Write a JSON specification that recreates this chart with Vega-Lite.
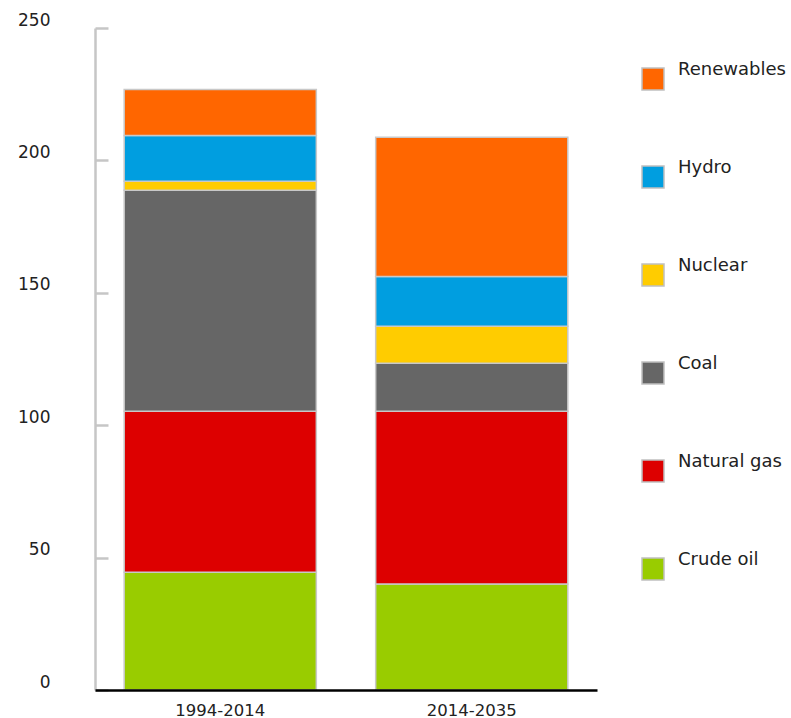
{
  "$schema": "https://vega.github.io/schema/vega-lite/v6.json",
  "width": 502,
  "height": 662,
  "autosize": {"type": "none"},
  "padding": {"left": 95, "top": 28, "right": 194, "bottom": 28},
  "background": "white",
  "config": {
    "view": {"stroke": null},
    "font": "DejaVu Sans"
  },
  "data": {
    "values": [
      {"period": "1994-2014", "source": "Crude oil", "rank": 1, "value": 44.5},
      {"period": "1994-2014", "source": "Natural gas", "rank": 2, "value": 60.8},
      {"period": "1994-2014", "source": "Coal", "rank": 3, "value": 83.4},
      {"period": "1994-2014", "source": "Nuclear", "rank": 4, "value": 3.4},
      {"period": "1994-2014", "source": "Hydro", "rank": 5, "value": 17.3},
      {"period": "1994-2014", "source": "Renewables", "rank": 6, "value": 17.4},
      {"period": "2014-2035", "source": "Crude oil", "rank": 1, "value": 40.0},
      {"period": "2014-2035", "source": "Natural gas", "rank": 2, "value": 65.3},
      {"period": "2014-2035", "source": "Coal", "rank": 3, "value": 18.1},
      {"period": "2014-2035", "source": "Nuclear", "rank": 4, "value": 14.0},
      {"period": "2014-2035", "source": "Hydro", "rank": 5, "value": 18.8},
      {"period": "2014-2035", "source": "Renewables", "rank": 6, "value": 52.5}
    ]
  },
  "mark": {"type": "bar", "stroke": "#c8c8c8", "strokeWidth": 1.5},
  "encoding": {
    "x": {
      "field": "period",
      "type": "nominal",
      "scale": {"paddingInner": 0.236, "paddingOuter": 0.116},
      "axis": {
        "title": null,
        "labelAngle": 0,
        "ticks": false,
        "domainColor": "#000000",
        "domainWidth": 2.5,
        "labelPadding": 12,
        "labelFontSize": 16.5,
        "labelColor": "#222222",
        "zindex": 2
      }
    },
    "y": {
      "field": "value",
      "type": "quantitative",
      "stack": "zero",
      "scale": {"domain": [0, 250], "nice": false},
      "axis": {
        "title": null,
        "values": [0, 50, 100, 150, 200, 250],
        "grid": false,
        "domainColor": "#c6c6c6",
        "domainWidth": 2.5,
        "tickColor": "#c6c6c6",
        "tickWidth": 2.5,
        "tickSize": -13,
        "labelPadding": 58,
        "labelOffset": -8,
        "labelFontSize": 17,
        "labelColor": "#222222",
        "zindex": 1
      }
    },
    "color": {
      "field": "source",
      "type": "nominal",
      "scale": {
        "domain": ["Renewables", "Hydro", "Nuclear", "Coal", "Natural gas", "Crude oil"],
        "range": ["#ff6600", "#009ee0", "#ffcc00", "#666666", "#dd0000", "#99cc00"]
      },
      "legend": {
        "title": null,
        "orient": "none",
        "legendX": 546,
        "legendY": 39,
        "padding": 0,
        "symbolType": "square",
        "symbolSize": 484,
        "symbolOpacity": 1,
        "symbolStrokeColor": "#c0c0c0",
        "symbolStrokeWidth": 1.5,
        "rowPadding": 66,
        "labelFontSize": 18,
        "labelColor": "#222222",
        "labelOffset": 13,
        "labelBaseline": "bottom",
        "labelLimit": 200
      }
    },
    "order": {"field": "rank", "type": "quantitative"}
  }
}
